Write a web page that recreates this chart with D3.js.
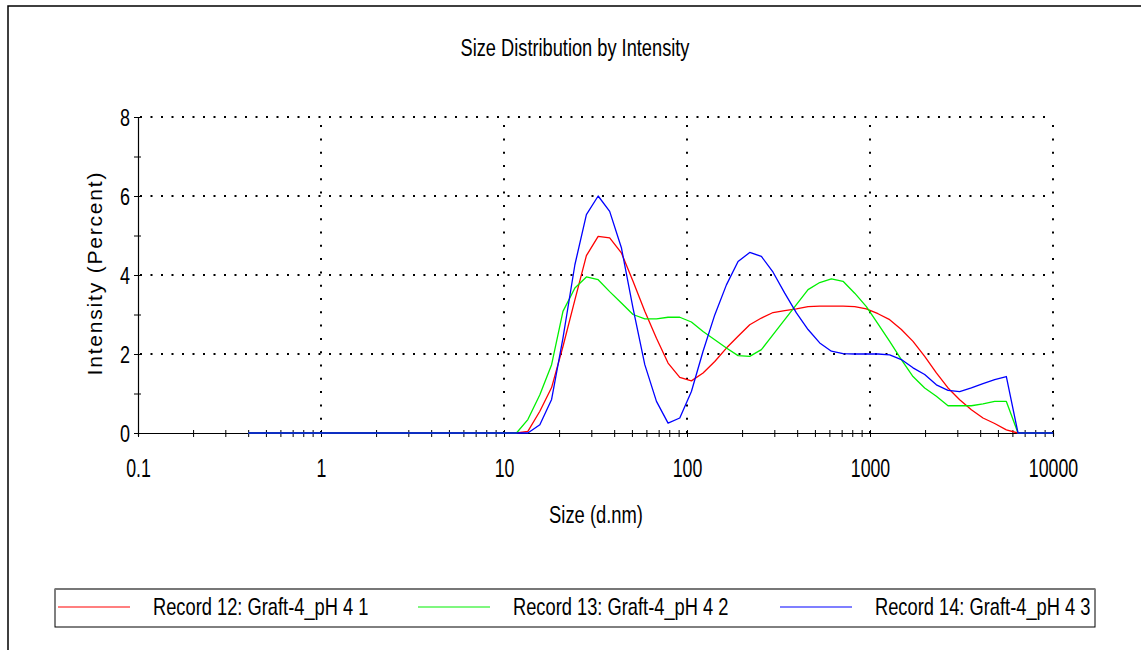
<!DOCTYPE html>
<html><head><meta charset="utf-8">
<script src="https://cdn.jsdelivr.net/npm/d3@7"></script>
<style>
body{margin:0;background:#fff;}
svg{display:block;}
text{font-family:"Liberation Sans",Arial,sans-serif;fill:#000;}
</style>
</head><body>
<svg id="c" width="1141" height="650"></svg>
<script>
// ---- data ----
const sizes = [0.4, 10.1, 11.7, 13.5, 15.7, 18.2, 21.0, 24.4, 28.2, 32.7, 37.8, 43.8, 50.7, 58.8, 68.1, 78.8, 91.3, 105.7, 122.4, 141.8, 164.2, 190.1, 220.2, 255.0, 295.3, 342.0, 396.1, 458.7, 531.2, 615.1, 712.4, 825.0, 955.4, 1106, 1281, 1484, 1718, 1990, 2305, 2669, 3091, 3580, 4145, 4801, 5560, 6439, 10000];
const record12 = [0, 0, 0, 0.04, 0.55, 1.15, 2.19, 3.37, 4.49, 4.98, 4.94, 4.56, 3.84, 3.08, 2.40, 1.77, 1.41, 1.32, 1.52, 1.81, 2.15, 2.45, 2.74, 2.91, 3.05, 3.10, 3.14, 3.20, 3.21, 3.21, 3.21, 3.20, 3.14, 3.02, 2.87, 2.62, 2.32, 1.94, 1.52, 1.14, 0.84, 0.59, 0.38, 0.24, 0.08, 0, 0];
const record13 = [0, 0, 0, 0.34, 0.97, 1.73, 3.08, 3.67, 3.95, 3.88, 3.58, 3.29, 3.00, 2.89, 2.89, 2.93, 2.93, 2.81, 2.57, 2.36, 2.15, 1.96, 1.94, 2.11, 2.49, 2.87, 3.25, 3.63, 3.81, 3.90, 3.84, 3.54, 3.20, 2.76, 2.32, 1.86, 1.43, 1.14, 0.93, 0.69, 0.69, 0.69, 0.74, 0.80, 0.80, 0, 0];
const record14 = [0, 0, 0, 0, 0.21, 0.85, 2.40, 4.26, 5.53, 6.00, 5.61, 4.69, 3.16, 1.73, 0.80, 0.25, 0.38, 1.05, 2.07, 2.99, 3.75, 4.34, 4.57, 4.47, 4.07, 3.54, 3.04, 2.62, 2.28, 2.07, 2.01, 2.00, 2.00, 2.00, 1.98, 1.86, 1.65, 1.48, 1.22, 1.08, 1.05, 1.14, 1.25, 1.35, 1.43, 0, 0];
const seriesNames = ["Record 12: Graft-4_pH 4 1", "Record 13: Graft-4_pH 4 2", "Record 14: Graft-4_pH 4 3"];
const seriesColors = ["#ff0000", "#00f000", "#0000ff"];
const xDecades = [0.1, 1, 10, 100, 1000, 10000];
const xTickLabels = ["0.1", "1", "10", "100", "1000", "10000"];
const yTicks = [0, 1, 2, 3, 4, 5, 6, 7, 8];
const yTickLabels = ["0", "", "2", "", "4", "", "6", "", "8"];
const yGrid = [2, 4, 6, 8];
const xGrid = [1, 10, 100, 1000, 10000];
const titleText = "Size Distribution by Intensity";
const xLabel = "Size (d.nm)";
const yLabel = "Intensity (Percent)";

// ---- drawing ----
const svg = d3.select("#c");
svg.append("rect").attr("width", 1141).attr("height", 650).attr("fill", "#fff");
svg.append("path").attr("d", "M8,650 V6 H1141").attr("fill", "none")
  .attr("stroke", "#000").attr("stroke-width", 1.5);

const x = d3.scaleLog().domain([0.1, 10000]).range([138, 1053]);
const y = d3.scaleLinear().domain([0, 8]).range([433, 117]);

// title
svg.append("text").attr("transform", "translate(575,56) scale(0.76,1)").attr("text-anchor", "middle")
  .attr("font-size", 24).text(titleText);

// grid
const grid = svg.append("g");
grid.selectAll(".hg").data(yGrid).join("line")
  .attr("x1", x(0.1) + 2).attr("x2", x(10000))
  .attr("y1", d => y(d)).attr("y2", d => y(d))
  .attr("stroke", "#000").attr("stroke-width", 2).attr("stroke-dasharray", "2,8.5");
grid.selectAll(".vg").data(xGrid).join("line")
  .attr("x1", d => x(d)).attr("x2", d => x(d))
  .attr("y1", y(0)).attr("y2", y(8))
  .attr("stroke", "#000").attr("stroke-width", 2).attr("stroke-dasharray", "2,11.3");

// x axis
const xTickVals = [];
xDecades.slice(0, -1).forEach(d => { for (let k = 1; k <= 9; k++) xTickVals.push(d * k); });
xTickVals.push(10000);
const xAx = svg.append("g").attr("transform", `translate(0,${y(0)})`)
  .call(d3.axisBottom(x).tickValues(xTickVals).tickSizeOuter(0).tickSize(3)
    .tickFormat(d => { const i = xDecades.findIndex(v => Math.abs(v - d) / d < 1e-6); return i >= 0 ? xTickLabels[i] : ""; }));
xAx.select(".domain").attr("stroke", "#000").attr("stroke-width", 1.2);
xAx.selectAll(".tick line").attr("y1", -3).attr("y2", 4).attr("stroke", "#000");
xAx.selectAll(".tick text").attr("y", 44).attr("dy", 0).attr("font-size", 25)
  .attr("font-family", "Liberation Sans, Arial, sans-serif").attr("fill", "#000")
  .attr("transform", "scale(0.71,1)");

// y axis
const yAx = svg.append("g").attr("transform", `translate(${x(0.1)},0)`)
  .call(d3.axisLeft(y).tickValues(yTicks).tickSizeOuter(0).tickSize(4)
    .tickFormat((d, i) => yTickLabels[i]));
yAx.select(".domain").attr("stroke", "#000").attr("stroke-width", 1.2);
yAx.selectAll(".tick line").attr("x1", -4).attr("x2", 3).attr("stroke", "#000");
yAx.selectAll(".tick text").attr("x", 0).attr("dy", 0).attr("y", 8).attr("font-size", 24)
  .attr("font-family", "Liberation Sans, Arial, sans-serif").attr("fill", "#000")
  .attr("text-anchor", "end")
  .attr("transform", "translate(-8,0) scale(0.75,1)");

// axis labels
svg.append("text").attr("transform", "translate(596,523) scale(0.766,1)").attr("text-anchor", "middle")
  .attr("font-size", 24).text(xLabel);
svg.append("text").attr("transform", "translate(102,274) rotate(-90)")
  .attr("text-anchor", "middle").attr("font-size", 21)
  .attr("textLength", 203).attr("lengthAdjust", "spacing")
  .text(yLabel);

// series
const allSeries = [record12, record13, record14];
const line = d3.line().x(d => x(d[0])).y(d => y(d[1]));
allSeries.forEach((vals, i) => {
  svg.append("path").datum(sizes.map((s, j) => [s, vals[j]]))
    .attr("d", line).attr("fill", "none")
    .attr("stroke", seriesColors[i]).attr("stroke-width", 1.3)
    .attr("stroke-linejoin", "round");
});

// legend
const lg = svg.append("g");
lg.append("rect").attr("x", 55).attr("y", 589).attr("width", 1040).attr("height", 38)
  .attr("fill", "#fff").attr("stroke", "#000").attr("stroke-width", 1);
lg.append("line").attr("x1", 55).attr("x2", 1095).attr("y1", 589).attr("y2", 589)
  .attr("stroke", "#777").attr("stroke-width", 2);
const legX = [58, 418, 780];
seriesNames.forEach((n, i) => {
  lg.append("line").attr("x1", legX[i]).attr("x2", legX[i] + 72).attr("y1", 607).attr("y2", 607)
    .attr("stroke", seriesColors[i]).attr("stroke-width", 1.2);
  lg.append("text").attr("transform", `translate(${legX[i] + 95},615) scale(0.762,1)`)
    .attr("font-size", 24).text(n);
});
</script>
</body></html>
